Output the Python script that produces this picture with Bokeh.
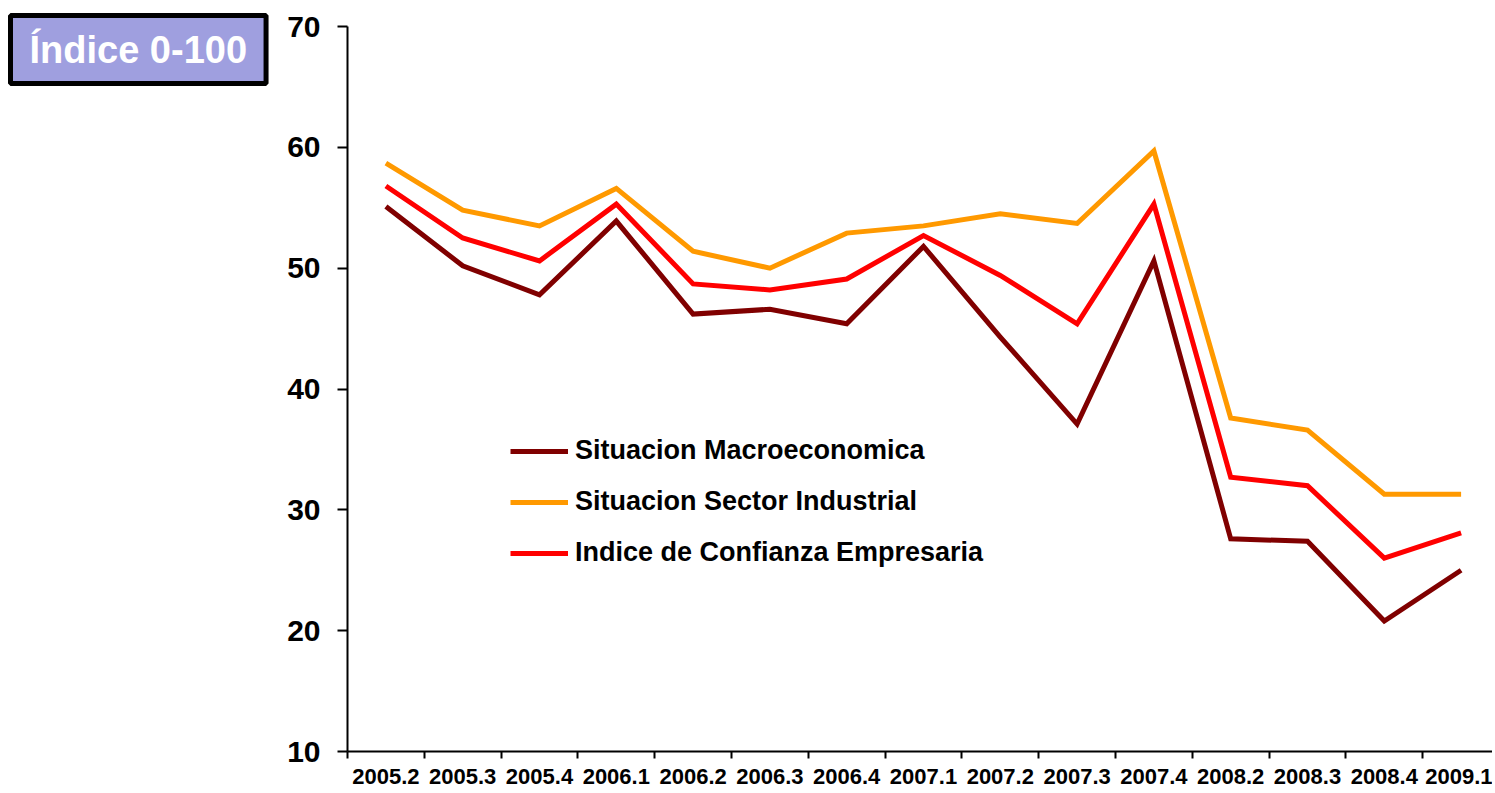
import numpy as np
from bokeh.plotting import figure
from bokeh.models import FixedTicker, Range1d, Label, Legend, LegendItem, LinearAxis
from bokeh.embed import file_html
from bokeh.resources import INLINE

periods = ["2005.2", "2005.3", "2005.4", "2006.1", "2006.2", "2006.3", "2006.4",
           "2007.1", "2007.2", "2007.3", "2007.4", "2008.2", "2008.3", "2008.4", "2009.1"]
macro = [55.1, 50.2, 47.8, 53.9, 46.2, 46.6, 45.4, 51.8, 44.3, 37.1, 50.6, 27.6, 27.4, 20.8, 25.0]
industrial = [58.7, 54.8, 53.5, 56.6, 51.4, 50.0, 52.9, 53.5, 54.5, 53.7, 59.7, 37.6, 36.6, 31.3, 31.3]
confianza = [56.8, 52.5, 50.6, 55.3, 48.7, 48.2, 49.1, 52.7, 49.4, 45.4, 55.3, 32.7, 32.0, 26.0, 28.1]
y_ticks = [10, 20, 30, 40, 50, 60, 70]
y_lo, y_hi = 10, 70

n = len(periods)
xc = np.arange(n) + 0.5

FONT = "Liberation Sans"
W, H = 1492, 793
# layout of the plotting area inside the canvas (pixels)
AX_LEFT, AX_TOP, AX_BOTTOM, CAT_PX = 347, 26, 751, 76.8
ypp = (y_hi - y_lo) / (AX_BOTTOM - AX_TOP)
x_start = -AX_LEFT / CAT_PX
x_end = (W - AX_LEFT) / CAT_PX
y_end = y_hi + AX_TOP * ypp
y_start = y_lo - (H - AX_BOTTOM) * ypp

p = figure(width=W, height=H, output_backend="svg", toolbar_location=None,
           x_range=Range1d(x_start, x_end), y_range=Range1d(y_start, y_end),
           x_axis_location=None, y_axis_location=None,
           min_border_left=0, min_border_top=0, min_border_bottom=0, min_border_right=0)
p.outline_line_color = None
p.xgrid.grid_line_color = None
p.ygrid.grid_line_color = None

r1 = p.line(xc, macro, line_color="#800000", line_width=5, line_join="miter")
r2 = p.line(xc, industrial, line_color="#FF9900", line_width=5, line_join="miter")
r3 = p.line(xc, confianza, line_color="#FF0000", line_width=5, line_join="miter")

# x axis: labels at centers, ticks at category boundaries
xaxis = LinearAxis(fixed_location=y_lo, bounds=(0, n),
                   ticker=FixedTicker(ticks=list(xc), minor_ticks=list(range(n + 1))))
xaxis.major_label_overrides = {float(x): lab for x, lab in zip(xc, periods)}
xaxis.major_tick_out = 0
xaxis.major_tick_in = 0
xaxis.minor_tick_out = 7
xaxis.minor_tick_in = 0
xaxis.minor_tick_line_color = "black"
xaxis.minor_tick_line_width = 2
xaxis.axis_line_width = 2
xaxis.major_label_text_font = FONT
xaxis.major_label_text_font_style = "bold"
xaxis.major_label_text_font_size = "22px"
xaxis.major_label_text_color = "black"
xaxis.major_label_standoff = 10
p.add_layout(xaxis, "below")

yaxis = LinearAxis(fixed_location=0, bounds=(y_lo, y_hi), ticker=FixedTicker(ticks=y_ticks))
yaxis.major_tick_out = 10
yaxis.major_tick_in = 0
yaxis.minor_tick_line_color = None
yaxis.major_tick_line_width = 2
yaxis.axis_line_width = 2
yaxis.major_label_text_font = FONT
yaxis.major_label_text_font_style = "bold"
yaxis.major_label_text_font_size = "30px"
yaxis.major_label_text_color = "black"
yaxis.major_label_standoff = 17
p.add_layout(yaxis, "left")

legend = Legend(items=[
    LegendItem(label="Situacion Macroeconomica", renderers=[r1]),
    LegendItem(label="Situacion Sector Industrial", renderers=[r2]),
    LegendItem(label="Indice de Confianza Empresaria", renderers=[r3]),
], location=(AX_LEFT + 163, (H - AX_BOTTOM) + 183))
legend.background_fill_alpha = 0
legend.border_line_color = None
legend.label_text_font = FONT
legend.label_text_font_style = "bold"
legend.label_text_font_size = "27px"
legend.label_text_color = "black"
legend.glyph_width = 58
legend.glyph_height = 22
legend.label_height = 22
legend.label_standoff = 7
legend.spacing = 20
legend.padding = 0
legend.margin = 0
p.add_layout(legend, "center")

title = Label(x=10, y=H - 83, x_units="screen", y_units="screen", text="Índice 0-100",
              text_font=FONT, text_font_style="bold", text_font_size="38px",
              text_color="white", background_fill_color="#9F9FDF",
              border_line_color="black", border_line_width=5,
              padding=(19, 13))
p.add_layout(title)

open("out.html", "w").write(file_html(p, INLINE))
